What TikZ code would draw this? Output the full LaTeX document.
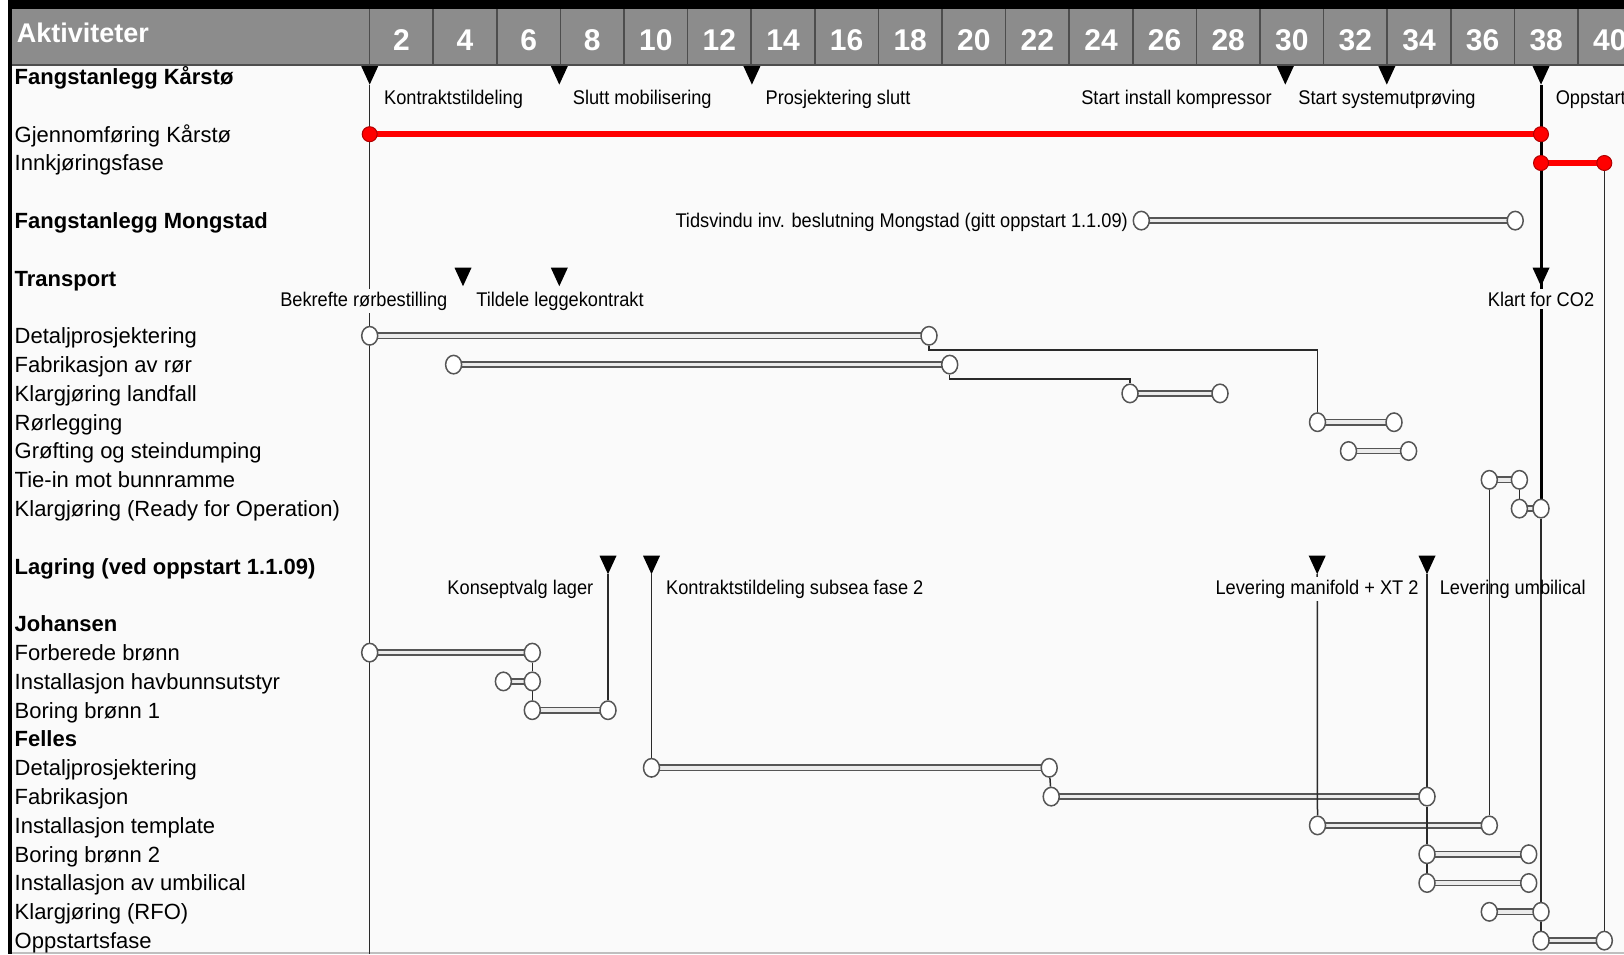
\documentclass[tikz,border=0pt]{standalone}
\usepackage{fontspec}
\setmainfont{Liberation Sans}
\newfontfamily\msfam[FakeStretch=0.92]{Liberation Sans}
\usetikzlibrary{shapes.geometric}
\pgfdeclarelayer{back}
\pgfdeclarelayer{bars}
\pgfdeclarelayer{links}
\pgfsetlayers{back,bars,links,main}
\definecolor{hdr}{HTML}{8C8C8C}
\definecolor{hdrline}{HTML}{4D4D4D}
\definecolor{barc}{HTML}{555555}
\definecolor{linkc}{HTML}{2A2A2A}
\definecolor{bgc}{HTML}{FAFAFA}
\definecolor{dotred}{HTML}{FF0000}
\definecolor{dotedge}{HTML}{B00000}
\tikzset{
  rowlbl/.style={anchor=base west, inner sep=0pt, font=\fontsize{22}{26}\selectfont},
  seclbl/.style={anchor=base west, inner sep=0pt, font=\fontsize{22}{26}\selectfont\bfseries},
  mslbl/.style={inner sep=0pt, font=\msfam\fontsize{19.8}{24}\selectfont},
  gaplbl/.style={mslbl, fill=bgc, inner xsep=1pt, inner ysep=3pt},
  hdrnum/.style={anchor=base, inner sep=0pt, text=white, font=\fontsize{30}{34}\selectfont\bfseries},
  endc/.style={ellipse, draw=barc, fill=white, minimum width=16, minimum height=18.5, inner sep=0pt, line width=1.5},
  reddot/.style={circle, fill=dotred, draw=dotedge, minimum size=15, inner sep=0pt, line width=1},
  bar/.style={draw=barc, line width=1.6, double=white!92!black, double distance=3.6},
  redbar/.style={draw=dotred, line width=6.5},
  link/.style={draw=linkc, line width=1.5},
  thicklink/.style={draw=black, line width=3},
  mtri/.pic={\fill[black] (-8.5,-18.5) -- (8.5,-18.5) -- (0,0) -- cycle;}
}
\begin{document}
\begin{tikzpicture}[x=1pt,y=-1pt]
\useasboundingbox (0,0) rectangle (1624,954);
\begin{pgfonlayer}{back}
  \clip (0,0) rectangle (1624,954);
  \fill[white] (0,0) rectangle (1624,954);
  \fill[bgc] (12,9) rectangle (1624,954);
  \fill[black] (8,0) rectangle (1624,8.5);
  \fill[black] (8,0) rectangle (12,954);
  \fill[hdr] (12,9) rectangle (1624,65);
  \foreach \k in {0,...,20} \draw[hdrline,line width=1.5] (369.6+63.6*\k,9) -- (369.6+63.6*\k,65);
  \draw[hdrline,line width=1.5] (12,65) -- (1624,65);
  \draw[black!25,line width=1.5] (12,953) -- (1624,953);
\end{pgfonlayer}

\begin{scope}
\clip (0,0) rectangle (1624,954);
% header
\node[anchor=base west, inner sep=0pt, text=white, font=\fontsize{27}{30}\selectfont\bfseries] (hakt) at (16.6,42.7) {Aktiviteter};
\foreach \n [count=\k from 0] in {2,4,...,40}
  \node[hdrnum] (h\n) at (401.4+63.6*\k,50.5) {\n};

% row labels
\node[seclbl] (l0) at (14.5,84.5) {Fangstanlegg Kårstø};
\node[rowlbl] (l2) at (14.5,142.1) {Gjennomføring Kårstø};
\node[rowlbl] (l3) at (14.5,170.9) {Innkjøringsfase};
\node[seclbl] (l5) at (14.5,228.5) {Fangstanlegg Mongstad};
\node[seclbl] (l7) at (14.5,286.1) {Transport};
\node[rowlbl] (l9) at (14.5,343.7) {Detaljprosjektering};
\node[rowlbl] (l10) at (14.5,372.5) {Fabrikasjon av rør};
\node[rowlbl] (l11) at (14.5,401.3) {Klargjøring landfall};
\node[rowlbl] (l12) at (14.5,430.1) {Rørlegging};
\node[rowlbl] (l13) at (14.5,458.9) {Grøfting og steindumping};
\node[rowlbl] (l14) at (14.5,487.7) {Tie-in mot bunnramme};
\node[rowlbl] (l15) at (14.5,516.5) {Klargjøring (Ready for Operation)};
\node[seclbl] (l17) at (14.5,574.1) {Lagring (ved oppstart 1.1.09)};
\node[seclbl] (l19) at (14.5,631.7) {Johansen};
\node[rowlbl] (l20) at (14.5,660.5) {Forberede brønn};
\node[rowlbl] (l21) at (14.5,689.3) {Installasjon havbunnsutstyr};
\node[rowlbl] (l22) at (14.5,718.1) {Boring brønn 1};
\node[seclbl] (l23) at (14.5,746.9) {Felles};
\node[rowlbl] (l24) at (14.5,775.7) {Detaljprosjektering};
\node[rowlbl] (l25) at (14.5,804.5) {Fabrikasjon};
\node[rowlbl] (l26) at (14.5,833.3) {Installasjon template};
\node[rowlbl] (l27) at (14.5,862.1) {Boring brønn 2};
\node[rowlbl] (l28) at (14.5,890.9) {Installasjon av umbilical};
\node[rowlbl] (l29) at (14.5,919.7) {Klargjøring (RFO)};
\node[rowlbl] (l30) at (14.5,948.5) {Oppstartsfase};

% bar end points
\node[reddot] (gs) at (369.7,134.2) {};
\node[reddot] (ge) at (1541,134.2) {};
\node[reddot] (is) at (1541,163.0) {};
\node[reddot] (ie) at (1604.3,163.0) {};

\node[endc] (mo1) at (1141.3,220.6) {};
\node[endc] (mo2) at (1515.2,220.6) {};

\node[endc] (td1) at (369.7,335.8) {};
\node[endc] (td2) at (929,335.8) {};
\node[endc] (tf1) at (453.6,364.6) {};
\node[endc] (tf2) at (949.7,364.6) {};
\node[endc] (kl1) at (1130,393.4) {};
\node[endc] (kl2) at (1220,393.4) {};
\node[endc] (rl1) at (1317.5,422.2) {};
\node[endc] (rl2) at (1394,422.2) {};
\node[endc] (gr1) at (1348.5,451.0) {};
\node[endc] (gr2) at (1408.6,451.0) {};
\node[endc] (ti1) at (1489.3,479.8) {};
\node[endc] (ti2) at (1519.4,479.8) {};
\node[endc] (kr1) at (1519.4,508.6) {};
\node[endc] (kr2) at (1541,508.6) {};

\node[endc] (fb1) at (369.7,652.6) {};
\node[endc] (fb2) at (532.3,652.6) {};
\node[endc] (ih1) at (503.4,681.4) {};
\node[endc] (ih2) at (532.3,681.4) {};
\node[endc] (bb1) at (532.3,710.2) {};
\node[endc] (bb2) at (608,710.2) {};

\node[endc] (fd1) at (651.5,767.8) {};
\node[endc] (fd2) at (1049.2,767.8) {};
\node[endc] (ff1) at (1051.2,796.6) {};
\node[endc] (ff2) at (1427,796.6) {};
\node[endc] (it1) at (1317.5,825.4) {};
\node[endc] (it2) at (1489.3,825.4) {};
\node[endc] (b21) at (1427,854.2) {};
\node[endc] (b22) at (1528.7,854.2) {};
\node[endc] (iu1) at (1427,883.0) {};
\node[endc] (iu2) at (1528.7,883.0) {};
\node[endc] (rf1) at (1489.3,911.8) {};
\node[endc] (rf2) at (1541,911.8) {};
\node[endc] (of1) at (1541,940.6) {};
\node[endc] (of2) at (1604.3,940.6) {};

% milestones (tips)
\coordinate (mk1) at (369.7,84.6);
\coordinate (mk2) at (559.3,84.6);
\coordinate (mk3) at (751.9,84.6);
\coordinate (mk4) at (1285.3,84.6);
\coordinate (mk5) at (1386.8,84.6);
\coordinate (mk6) at (1541,84.6);
\coordinate (mt1) at (463,286.2);
\coordinate (mt2) at (559.3,286.2);
\coordinate (mt3) at (1541,286.2);
\coordinate (ml1) at (608,574.2);
\coordinate (ml2) at (651.5,574.2);
\coordinate (ml3) at (1317.2,574.2);
\coordinate (ml4) at (1427,574.2);
\foreach \m in {mk1,mk2,mk3,mk4,mk5,mk6,mt1,mt2,mt3,ml1,ml2,ml3,ml4}
  \pic at (\m) {mtri};
\coordinate (bot) at (369.7,954);
\coordinate (c1) at (1100,350.2);
\coordinate (c2) at (1050,379.0);

% milestone labels
\node[mslbl, anchor=base west] (t1) at (384,104.6) {Kontraktstildeling};
\node[mslbl, anchor=base west] (t2) at (572.7,104.6) {Slutt mobilisering};
\node[mslbl, anchor=base west] (t3) at (765.4,104.6) {Prosjektering slutt};
\node[mslbl, anchor=base east] (t4) at (1271.8,104.6) {Start install kompressor};
\node[mslbl, anchor=base] (t5) at (1387,104.6) {Start systemutprøving};
\node[mslbl, anchor=base west] (t6) at (1555.6,104.6) {Oppstart};
\node[mslbl, anchor=base east] (t7) at (1128,227.6) {Tidsvindu inv. beslutning Mongstad (gitt oppstart 1.1.09)};
\node[gaplbl, anchor=base east] (t8) at (448.5,306.2) {Bekrefte rørbestilling};
\node[mslbl, anchor=base] (t9) at (560,306.2) {Tildele leggekontrakt};
\node[gaplbl, anchor=base] (t10) at (1541,306.2) {Klart for CO2};
\node[mslbl, anchor=base east] (t11) at (593.5,594.2) {Konseptvalg lager};
\node[mslbl, anchor=base west] (t12) at (666,594.2) {Kontraktstildeling subsea fase 2};
\node[gaplbl, anchor=base] (t13) at (1317,594.2) {Levering manifold + XT 2};
\node[mslbl, anchor=base west] (t14) at (1439.6,594.2) {Levering umbilical};
\end{scope}

% bars
\begin{pgfonlayer}{bars}
  \draw[redbar] (gs.center) -- (ge.center);
  \draw[redbar] (is.center) -- (ie.center);
  \foreach \a/\b in {mo1/mo2,td1/td2,tf1/tf2,kl1/kl2,rl1/rl2,gr1/gr2,ti1/ti2,kr1/kr2,
                     fb1/fb2,ih1/ih2,bb1/bb2,fd1/fd2,ff1/ff2,it1/it2,b21/b22,iu1/iu2,rf1/rf2,of1/of2}
    \draw[bar] (\a.center) -- (\b.center);
\end{pgfonlayer}

% links
\begin{pgfonlayer}{links}
  \draw[link] (mk1) -- (bot);
  \draw[thicklink] (mk6) -- (kr2);
  \draw[link] (kr2) -- (rf2);
  \draw[link] (rf2) -- (of1);
  \draw[link] (ie) -- (of2);
  \draw[link] (ti1) -- (it2);
  \draw[link] (ti2) -- (kr1);
  \draw[link] (td2) |- (c1) -| (rl1);
  \draw[link] (tf2) |- (c2) -| (kl1);
  \draw[link] (fb2) -- (ih2);
  \draw[link] (ih2) -- (bb1);
  \draw[link] (ml1) -- (bb2);
  \draw[link] (ml2) -- (fd1);
  \draw[link] (fd2) -- (ff1);
  \draw[link] (ml3) -- (it1);
  \draw[link] (ml4) -- (ff2);
  \draw[link] (ff2) -- (b21);
  \draw[link] (b21) -- (iu1);
\end{pgfonlayer}
\end{tikzpicture}
\end{document}
